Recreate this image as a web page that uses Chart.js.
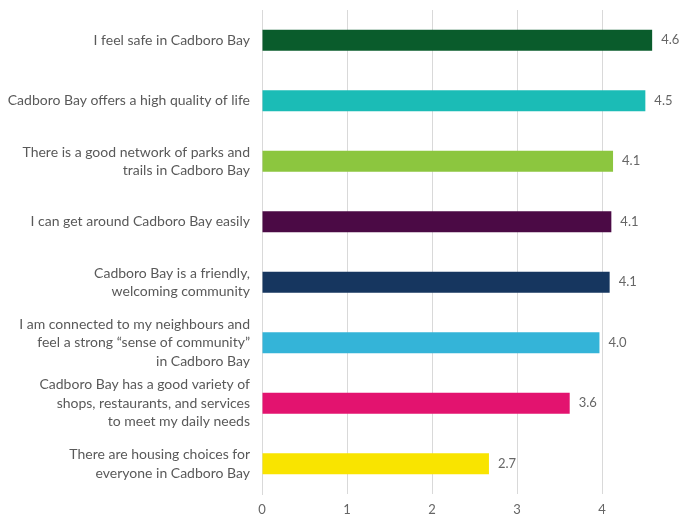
<!DOCTYPE html>
<html>
<head>
<meta charset="utf-8">
<script src="https://cdn.jsdelivr.net/npm/chart.js@4"></script>
<style>
html,body{margin:0;padding:0;background:#fff;overflow:hidden;width:684px;height:519px;}
#wrap{width:700px;height:519px;position:relative;}
</style>
</head>
<body>
<div id="wrap"><canvas id="c" width="700" height="519"></canvas></div>
<script>
const categories = [
  ["I feel safe in Cadboro Bay"],
  ["Cadboro Bay offers a high quality of life"],
  ["There is a good network of parks and", "trails in Cadboro Bay"],
  ["I can get around Cadboro Bay easily"],
  ["Cadboro Bay is a friendly,", "welcoming community"],
  ["I am connected to my neighbours and", "feel a strong \u201csense of community\u201d", "in Cadboro Bay"],
  ["Cadboro Bay has a good variety of", "shops, restaurants, and services", "to meet my daily needs"],
  ["There are housing choices for", "everyone in Cadboro Bay"]
];
const values = [4.59, 4.51, 4.13, 4.11, 4.09, 3.97, 3.62, 2.67];
const barColors = ["#0a5c2c", "#1bbcb6", "#8cc63f", "#4b0a45", "#16365f", "#34b4d8", "#e3136f", "#f9e400"];
const xTicks = [0, 1, 2, 3, 4, 5];

const FONT = "Lato, 'Open Sans', sans-serif";
const TXT = "#595959";

const valueLabels = {
  id: "valueLabels",
  afterDatasetsDraw(chart) {
    const ctx = chart.ctx;
    const meta = chart.getDatasetMeta(0);
    ctx.save();
    ctx.font = "13px " + FONT;
    ctx.fillStyle = "#666666";
    ctx.textAlign = "left";
    ctx.textBaseline = "middle";
    meta.data.forEach((bar, i) => {
      ctx.fillText(values[i].toFixed(1), bar.x + 9, bar.y);
    });
    ctx.restore();
  }
};

new Chart(document.getElementById("c"), {
  type: "bar",
  data: {
    labels: categories,
    datasets: [{
      data: values,
      backgroundColor: barColors,
      borderWidth: 0,
      barPercentage: 0.35,
      categoryPercentage: 1.0
    }]
  },
  options: {
    indexAxis: "y",
    responsive: false,
    animation: false,
    devicePixelRatio: 1,
    layout: { padding: { top: 10, right: 13, left: 0, bottom: 0 } },
    plugins: { legend: { display: false }, tooltip: { enabled: false } },
    scales: {
      x: {
        min: 0, max: 5,
        afterBuildTicks(scale) { scale.ticks = xTicks.map(v => ({ value: v })); },
        afterFit(scale) { scale.height = 25; scale.paddingLeft = 0; scale.paddingRight = 0; },
        grid: { color: "#d9d9d9", lineWidth: 1, drawTicks: false },
        border: { display: false },
        ticks: { color: "#666666", font: { size: 13, family: FONT }, padding: 8 }
      },
      y: {
        afterFit(scale) { scale.width = 262; scale.paddingTop = 0; scale.paddingBottom = 0; },
        grid: { display: false, drawTicks: false, tickLength: 0 },
        border: { display: true, color: "#d9d9d9" },
        ticks: { color: TXT, font: { size: 14, family: FONT, lineHeight: 1.32 }, padding: 12 }
      }
    }
  },
  plugins: [valueLabels]
});
</script>
</body>
</html>
